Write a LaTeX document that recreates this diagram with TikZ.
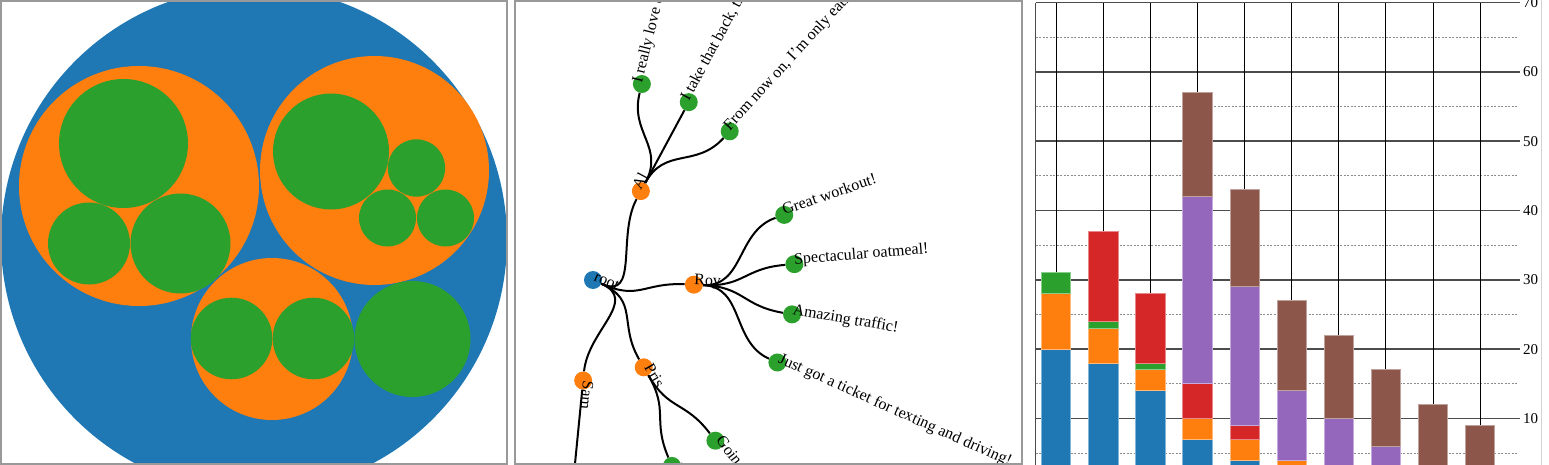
\documentclass[tikz,border=0pt]{standalone}
\usepackage{fontspec}
\setmainfont{Liberation Serif}
\usetikzlibrary{calc}
\definecolor{packblue}{HTML}{1F77B4}
\definecolor{packorange}{HTML}{FF7F0E}
\definecolor{packgreen}{HTML}{2CA02C}
\definecolor{barred}{HTML}{D62728}
\definecolor{barpurple}{HTML}{9467BD}
\definecolor{barbrown}{HTML}{8C564B}
\begin{document}
\begin{tikzpicture}[x=1pt, y=1pt]
  \tikzstyle{panelframe} = [draw=gray!80, line width=2pt]
  \tikzstyle{rootdot} = [circle, inner sep=0pt, minimum size=18pt, fill=packblue]
  \tikzstyle{userdot} = [circle, inner sep=0pt, minimum size=18pt, fill=packorange]
  \tikzstyle{tweetdot} = [circle, inner sep=0pt, minimum size=18pt, fill=packgreen]
  \tikzstyle{lbl} = [anchor=base west, inner sep=0pt, font=\fontsize{16}{19}\selectfont]
  \tikzstyle{branch} = [line width=2pt, black]
  \tikzstyle{majorline} = [draw=black!70, line width=1.5pt]
  \tikzstyle{minorline} = [draw=black!45, line width=1pt, dash pattern=on 2pt off 1.5pt]
  \tikzstyle{colline} = [draw=black, line width=1pt]
  \tikzstyle{ticklbl} = [anchor=west, inner sep=0pt, font=\fontsize{15}{18}\selectfont]
  \tikzstyle{seg} = [line width=0.8pt]

  \useasboundingbox (0,0) rectangle (1549,-465);

  \fill [packblue] (254,-240) circle (253);
  \fill [packorange] (139,-186) circle (120);
  \fill [packorange] (374.5,-170.5) circle (114.5);
  \fill [packorange] (272,-339) circle (81);
  \fill [packgreen] (123.5,-143.5) circle (64.5);
  \fill [packgreen] (89,-243.5) circle (41);
  \fill [packgreen] (180.5,-243.5) circle (50);
  \fill [packgreen] (331,-151.5) circle (58);
  \fill [packgreen] (416.5,-168) circle (28.7);
  \fill [packgreen] (387.5,-218) circle (28.5);
  \fill [packgreen] (445.5,-218) circle (28.5);
  \fill [packgreen] (231.5,-338.5) circle (40.8);
  \fill [packgreen] (313.5,-338.5) circle (40.8);
  \fill [packgreen] (412.5,-339) circle (58);

  \node (root) [rootdot] at (593,-280) {};
  \node (al) [userdot] at ($(root)+(61.7:101)$) {};
  \node (roy) [userdot] at ($(root)+(-2.65:101)$) {};
  \node (pris) [userdot] at ($(root)+(-59.85:101)$) {};
  \node (sam) [userdot] at ($(root)+(-95.6:101)$) {};
  \node (love) [tweetdot] at ($(root)+(76:202)$) {};
  \node (takeback) [tweetdot] at ($(root)+(61.7:202)$) {};
  \node (cheerios) [tweetdot] at ($(root)+(47.4:202)$) {};
  \node (workout) [tweetdot] at ($(root)+(18.8:202)$) {};
  \node (oatmeal) [tweetdot] at ($(root)+(4.5:202)$) {};
  \node (traffic) [tweetdot] at ($(root)+(-9.8:202)$) {};
  \node (ticket) [tweetdot] at ($(root)+(-24.1:202)$) {};
  \node (eggs) [tweetdot] at ($(root)+(-52.7:202)$) {};
  \node (gym) [tweetdot] at ($(root)+(-67:202)$) {};
  \node (tired) [tweetdot] at ($(root)+(-95.6:202)$) {};

  \draw [branch] (root) .. controls ($(root)+(-24.1:50.5)$) and ($(root)+(61.7:50.5)$) .. (al);
  \draw [branch] (root) .. controls ($(root)+(-24.1:50.5)$) and ($(root)+(-2.65:50.5)$) .. (roy);
  \draw [branch] (root) .. controls ($(root)+(-24.1:50.5)$) and ($(root)+(-59.85:50.5)$) .. (pris);
  \draw [branch] (root) .. controls ($(root)+(-24.1:50.5)$) and ($(root)+(-95.6:50.5)$) .. (sam);
  \draw [branch] (al) .. controls ($(root)+(61.7:151.5)$) and ($(root)+(76:151.5)$) .. (love);
  \draw [branch] (al) .. controls ($(root)+(61.7:151.5)$) and ($(root)+(61.7:151.5)$) .. (takeback);
  \draw [branch] (al) .. controls ($(root)+(61.7:151.5)$) and ($(root)+(47.4:151.5)$) .. (cheerios);
  \draw [branch] (roy) .. controls ($(root)+(-2.65:151.5)$) and ($(root)+(18.8:151.5)$) .. (workout);
  \draw [branch] (roy) .. controls ($(root)+(-2.65:151.5)$) and ($(root)+(4.5:151.5)$) .. (oatmeal);
  \draw [branch] (roy) .. controls ($(root)+(-2.65:151.5)$) and ($(root)+(-9.8:151.5)$) .. (traffic);
  \draw [branch] (roy) .. controls ($(root)+(-2.65:151.5)$) and ($(root)+(-24.1:151.5)$) .. (ticket);
  \draw [branch] (pris) .. controls ($(root)+(-59.85:151.5)$) and ($(root)+(-52.7:151.5)$) .. (eggs);
  \draw [branch] (pris) .. controls ($(root)+(-59.85:151.5)$) and ($(root)+(-67:151.5)$) .. (gym);
  \draw [branch] (sam) .. controls ($(root)+(-95.6:151.5)$) and ($(root)+(-95.6:151.5)$) .. (tired);

  \node (rootlbl) [lbl, rotate=-24.1] at (root.center) {root};
  \node (allbl) [lbl, rotate=61.7] at (al.center) {Al};
  \node (roylbl) [lbl, rotate=-2.65] at (roy.center) {Roy};
  \node (prislbl) [lbl, rotate=-59.85] at (pris.center) {Pris};
  \node (samlbl) [lbl, rotate=-95.6] at (sam.center) {Sam};
  \node (lovelbl) [lbl, rotate=76] at (love.center) {I really love oatmeal.};
  \node (takebacklbl) [lbl, rotate=61.7] at (takeback.center) {I take that back, this oatmeal is terrible.};
  \node (cheerioslbl) [lbl, rotate=47.4] at (cheerios.center) {From now on, I'm only eating Cheerios.};
  \node (workoutlbl) [lbl, rotate=18.8] at (workout.center) {Great workout!};
  \node (oatmeallbl) [lbl, rotate=4.5] at (oatmeal.center) {Spectacular oatmeal!};
  \node (trafficlbl) [lbl, rotate=-9.8] at (traffic.center) {Amazing traffic!};
  \node (ticketlbl) [lbl, rotate=-24.1] at (ticket.center) {Just got a ticket for texting and driving!};
  \node (eggslbl) [lbl, rotate=-52.7] at (eggs.center) {Going to have some boiled eggs.};
  \node (gymlbl) [lbl, rotate=-67] at (gym.center) {Maybe practice some gymnastics.};
  \node (tiredlbl) [lbl, rotate=-95.6] at (tired.center) {Tired of this whole thing.};

  \begin{scope}[shift={(1056.2,-487.7)}, x=47.11pt, y=6.93pt]
    \draw [minorline] (-0.439,5) -- (9.803,5);
    \draw [minorline] (-0.439,15) -- (9.803,15);
    \draw [minorline] (-0.439,25) -- (9.803,25);
    \draw [minorline] (-0.439,35) -- (9.803,35);
    \draw [minorline] (-0.439,45) -- (9.803,45);
    \draw [minorline] (-0.439,55) -- (9.803,55);
    \draw [minorline] (-0.439,65) -- (9.803,65);
    \draw [majorline] (-0.439,10) -- (9.845,10);
    \draw [majorline] (-0.439,20) -- (9.845,20);
    \draw [majorline] (-0.439,30) -- (9.845,30);
    \draw [majorline] (-0.439,40) -- (9.845,40);
    \draw [majorline] (-0.439,50) -- (9.845,50);
    \draw [majorline] (-0.439,60) -- (9.845,60);
    \draw [majorline] (-0.439,70) -- (9.845,70);
    \draw [colline] (0,0) -- (0,70);
    \draw [colline] (1,0) -- (1,70);
    \draw [colline] (2,0) -- (2,70);
    \draw [colline] (3,0) -- (3,70);
    \draw [colline] (4,0) -- (4,70);
    \draw [colline] (5,0) -- (5,70);
    \draw [colline] (6,0) -- (6,70);
    \draw [colline] (7,0) -- (7,70);
    \draw [colline] (8,0) -- (8,70);
    \draw [colline] (9,0) -- (9,70);
    \draw [majorline] (-0.439,0) -- (-0.439,70);

    \node (t10) [ticklbl] at (9.909,10) {10};
    \node (t20) [ticklbl] at (9.909,20) {20};
    \node (t30) [ticklbl] at (9.909,30) {30};
    \node (t40) [ticklbl] at (9.909,40) {40};
    \node (t50) [ticklbl] at (9.909,50) {50};
    \node (t60) [ticklbl] at (9.909,60) {60};
    \node (t70) [ticklbl] at (9.909,70) {70};

    \draw [seg, fill=packblue, draw=packblue!55!white] (-0.311,0) rectangle (0.311,20);
    \draw [seg, fill=packorange, draw=packorange!55!white] (-0.311,20) rectangle (0.311,28);
    \draw [seg, fill=packgreen, draw=packgreen!55!white] (-0.311,28) rectangle (0.311,31);

    \draw [seg, fill=packblue, draw=packblue!55!white] (0.689,0) rectangle (1.311,18);
    \draw [seg, fill=packorange, draw=packorange!55!white] (0.689,18) rectangle (1.311,23);
    \draw [seg, fill=packgreen, draw=packgreen!55!white] (0.689,23) rectangle (1.311,24);
    \draw [seg, fill=barred, draw=barred!55!white] (0.689,24) rectangle (1.311,37);

    \draw [seg, fill=packblue, draw=packblue!55!white] (1.689,0) rectangle (2.311,14);
    \draw [seg, fill=packorange, draw=packorange!55!white] (1.689,14) rectangle (2.311,17);
    \draw [seg, fill=packgreen, draw=packgreen!55!white] (1.689,17) rectangle (2.311,18);
    \draw [seg, fill=barred, draw=barred!55!white] (1.689,18) rectangle (2.311,28);

    \draw [seg, fill=packblue, draw=packblue!55!white] (2.689,0) rectangle (3.311,7);
    \draw [seg, fill=packorange, draw=packorange!55!white] (2.689,7) rectangle (3.311,10);
    \draw [seg, fill=barred, draw=barred!55!white] (2.689,10) rectangle (3.311,15);
    \draw [seg, fill=barpurple, draw=barpurple!55!white] (2.689,15) rectangle (3.311,42);
    \draw [seg, fill=barbrown, draw=barbrown!55!white] (2.689,42) rectangle (3.311,57);

    \draw [seg, fill=packblue, draw=packblue!55!white] (3.689,0) rectangle (4.311,4);
    \draw [seg, fill=packorange, draw=packorange!55!white] (3.689,4) rectangle (4.311,7);
    \draw [seg, fill=barred, draw=barred!55!white] (3.689,7) rectangle (4.311,9);
    \draw [seg, fill=barpurple, draw=barpurple!55!white] (3.689,9) rectangle (4.311,29);
    \draw [seg, fill=barbrown, draw=barbrown!55!white] (3.689,29) rectangle (4.311,43);

    \draw [seg, fill=packorange, draw=packorange!55!white] (4.689,0) rectangle (5.311,4);
    \draw [seg, fill=barpurple, draw=barpurple!55!white] (4.689,4) rectangle (5.311,14);
    \draw [seg, fill=barbrown, draw=barbrown!55!white] (4.689,14) rectangle (5.311,27);

    \draw [seg, fill=barpurple, draw=barpurple!55!white] (5.689,0) rectangle (6.311,10);
    \draw [seg, fill=barbrown, draw=barbrown!55!white] (5.689,10) rectangle (6.311,22);

    \draw [seg, fill=barpurple, draw=barpurple!55!white] (6.689,0) rectangle (7.311,6);
    \draw [seg, fill=barbrown, draw=barbrown!55!white] (6.689,6) rectangle (7.311,17);

    \draw [seg, fill=barbrown, draw=barbrown!55!white] (7.689,0) rectangle (8.311,12);

    \draw [seg, fill=barbrown, draw=barbrown!55!white] (8.689,0) rectangle (9.311,9);
  \end{scope}

  \draw [panelframe] (1,-1) rectangle (507,-464);
  \draw [panelframe] (514.5,-1) rectangle (1021.5,-464);
  \draw [draw=gray!35, line width=1pt] (1541,0) -- (1541,-465);
\end{tikzpicture}
\end{document}
